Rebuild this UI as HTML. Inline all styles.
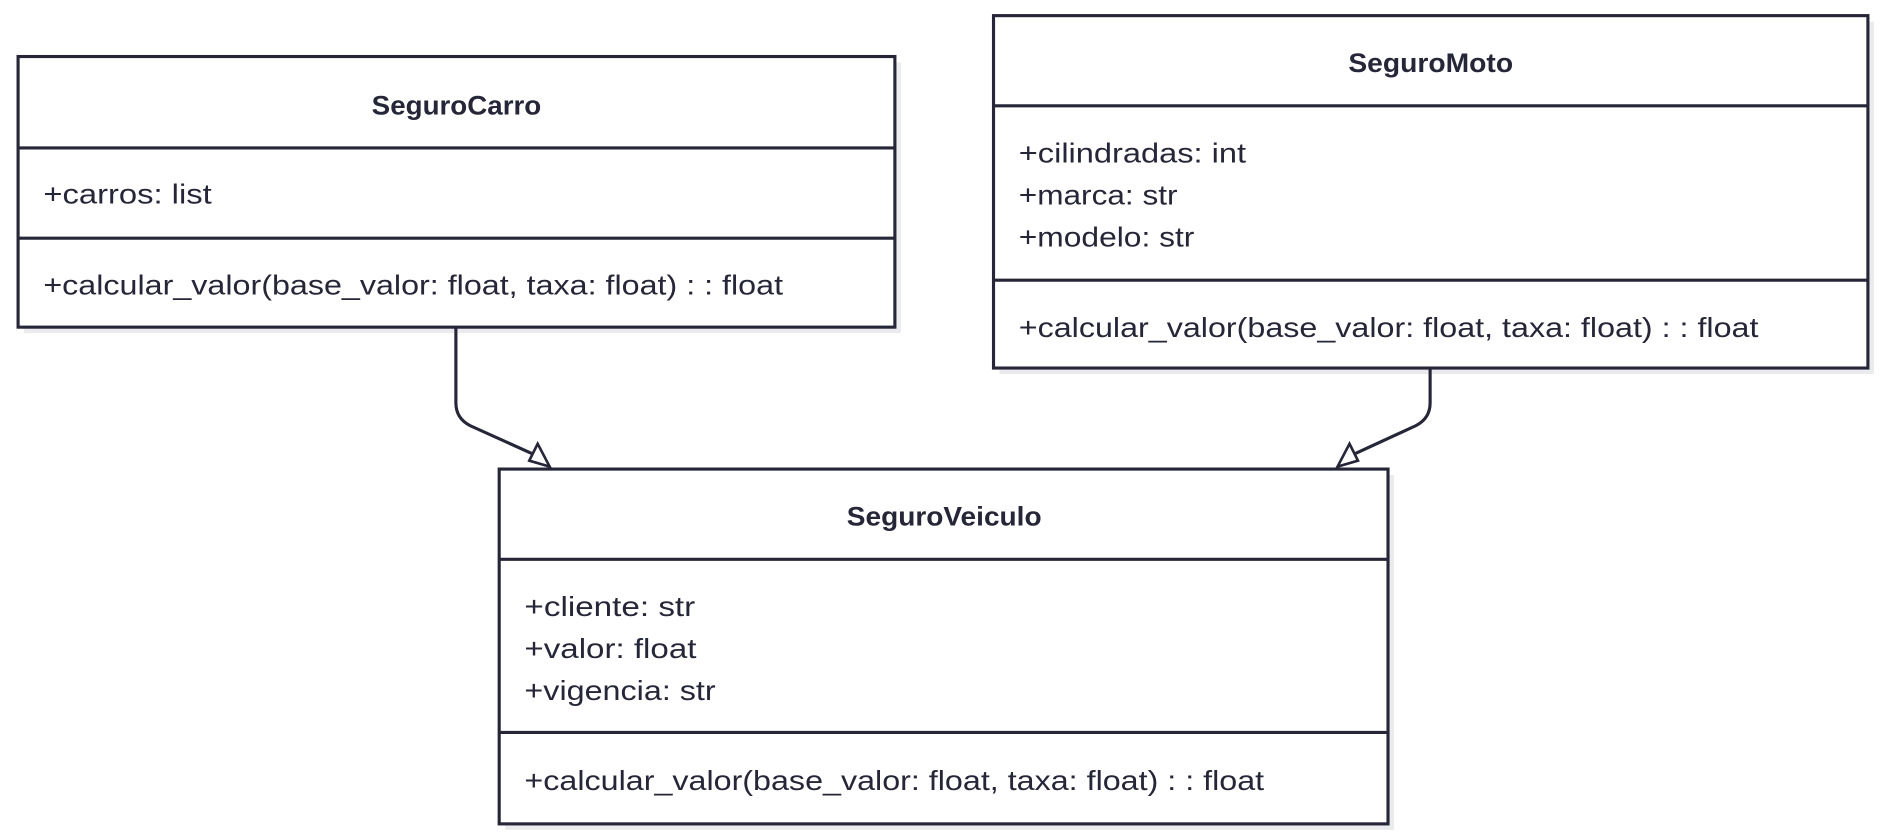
<!DOCTYPE html>
<html><head><meta charset="utf-8"><style>
html,body{margin:0;padding:0;background:#fff;width:1886px;height:840px;overflow:hidden}
svg{display:block}
text{font-family:"Liberation Sans",sans-serif;fill:#262638}
.t{font-weight:bold;font-size:22px}
.a{font-size:23px}
.b{fill:#fff;stroke:#262638;stroke-width:2.6}
.s{fill:#ebebee}
.l{stroke:#262638;stroke-width:2.6}
</style></head><body>
<svg width="1886" height="840" viewBox="0 0 1568 698.4" xmlns="http://www.w3.org/2000/svg">
<rect class="s" x="20" y="52" width="729" height="225"/>
<rect class="s" x="831" y="18" width="727" height="293"/>
<rect class="s" x="420" y="395" width="739" height="295"/>
<!-- SeguroCarro -->
<rect class="b" x="15" y="47" width="729" height="225"/>
<line class="l" x1="15" y1="123" x2="744" y2="123"/>
<line class="l" x1="15" y1="198" x2="744" y2="198"/>
<text class="t" x="309" y="95" textLength="141" lengthAdjust="spacingAndGlyphs">SeguroCarro</text>
<text class="a" x="36" y="169" textLength="140" lengthAdjust="spacingAndGlyphs">+carros: list</text>
<text class="a" x="36" y="245" textLength="615" lengthAdjust="spacingAndGlyphs">+calcular_valor(base_valor: float, taxa: float) : : float</text>
<!-- SeguroMoto -->
<rect class="b" x="826" y="13" width="727" height="293"/>
<line class="l" x1="826" y1="88" x2="1553" y2="88"/>
<line class="l" x1="826" y1="233" x2="1553" y2="233"/>
<text class="t" x="1121" y="60" textLength="137" lengthAdjust="spacingAndGlyphs">SeguroMoto</text>
<text class="a" x="847" y="135" textLength="189" lengthAdjust="spacingAndGlyphs">+cilindradas: int</text>
<text class="a" x="847" y="170" textLength="132" lengthAdjust="spacingAndGlyphs">+marca: str</text>
<text class="a" x="847" y="205" textLength="146" lengthAdjust="spacingAndGlyphs">+modelo: str</text>
<text class="a" x="847" y="280" textLength="615" lengthAdjust="spacingAndGlyphs">+calcular_valor(base_valor: float, taxa: float) : : float</text>
<!-- SeguroVeiculo -->
<rect class="b" x="415" y="390" width="739" height="295"/>
<line class="l" x1="415" y1="465" x2="1154" y2="465"/>
<line class="l" x1="415" y1="609" x2="1154" y2="609"/>
<text class="t" x="704" y="437" textLength="162" lengthAdjust="spacingAndGlyphs">SeguroVeiculo</text>
<text class="a" x="436" y="512" textLength="142" lengthAdjust="spacingAndGlyphs">+cliente: str</text>
<text class="a" x="436" y="547" textLength="143" lengthAdjust="spacingAndGlyphs">+valor: float</text>
<text class="a" x="436" y="582" textLength="159" lengthAdjust="spacingAndGlyphs">+vigencia: str</text>
<text class="a" x="436" y="657" textLength="615" lengthAdjust="spacingAndGlyphs">+calcular_valor(base_valor: float, taxa: float) : : float</text>
<!-- edges -->
<path d="M379,272 L379,335 Q379,348 391,354 L442,377" fill="none" stroke="#262638" stroke-width="2.6"/>
<polygon points="457,388 440,383 447,369" fill="#fff" stroke="#262638" stroke-width="2.2"/>
<path d="M1189,306 L1189,335 Q1189,348 1177,354 L1127,377" fill="none" stroke="#262638" stroke-width="2.6"/>
<polygon points="1112,388 1129,383 1122,369" fill="#fff" stroke="#262638" stroke-width="2.2"/>
</svg>
</body></html>
